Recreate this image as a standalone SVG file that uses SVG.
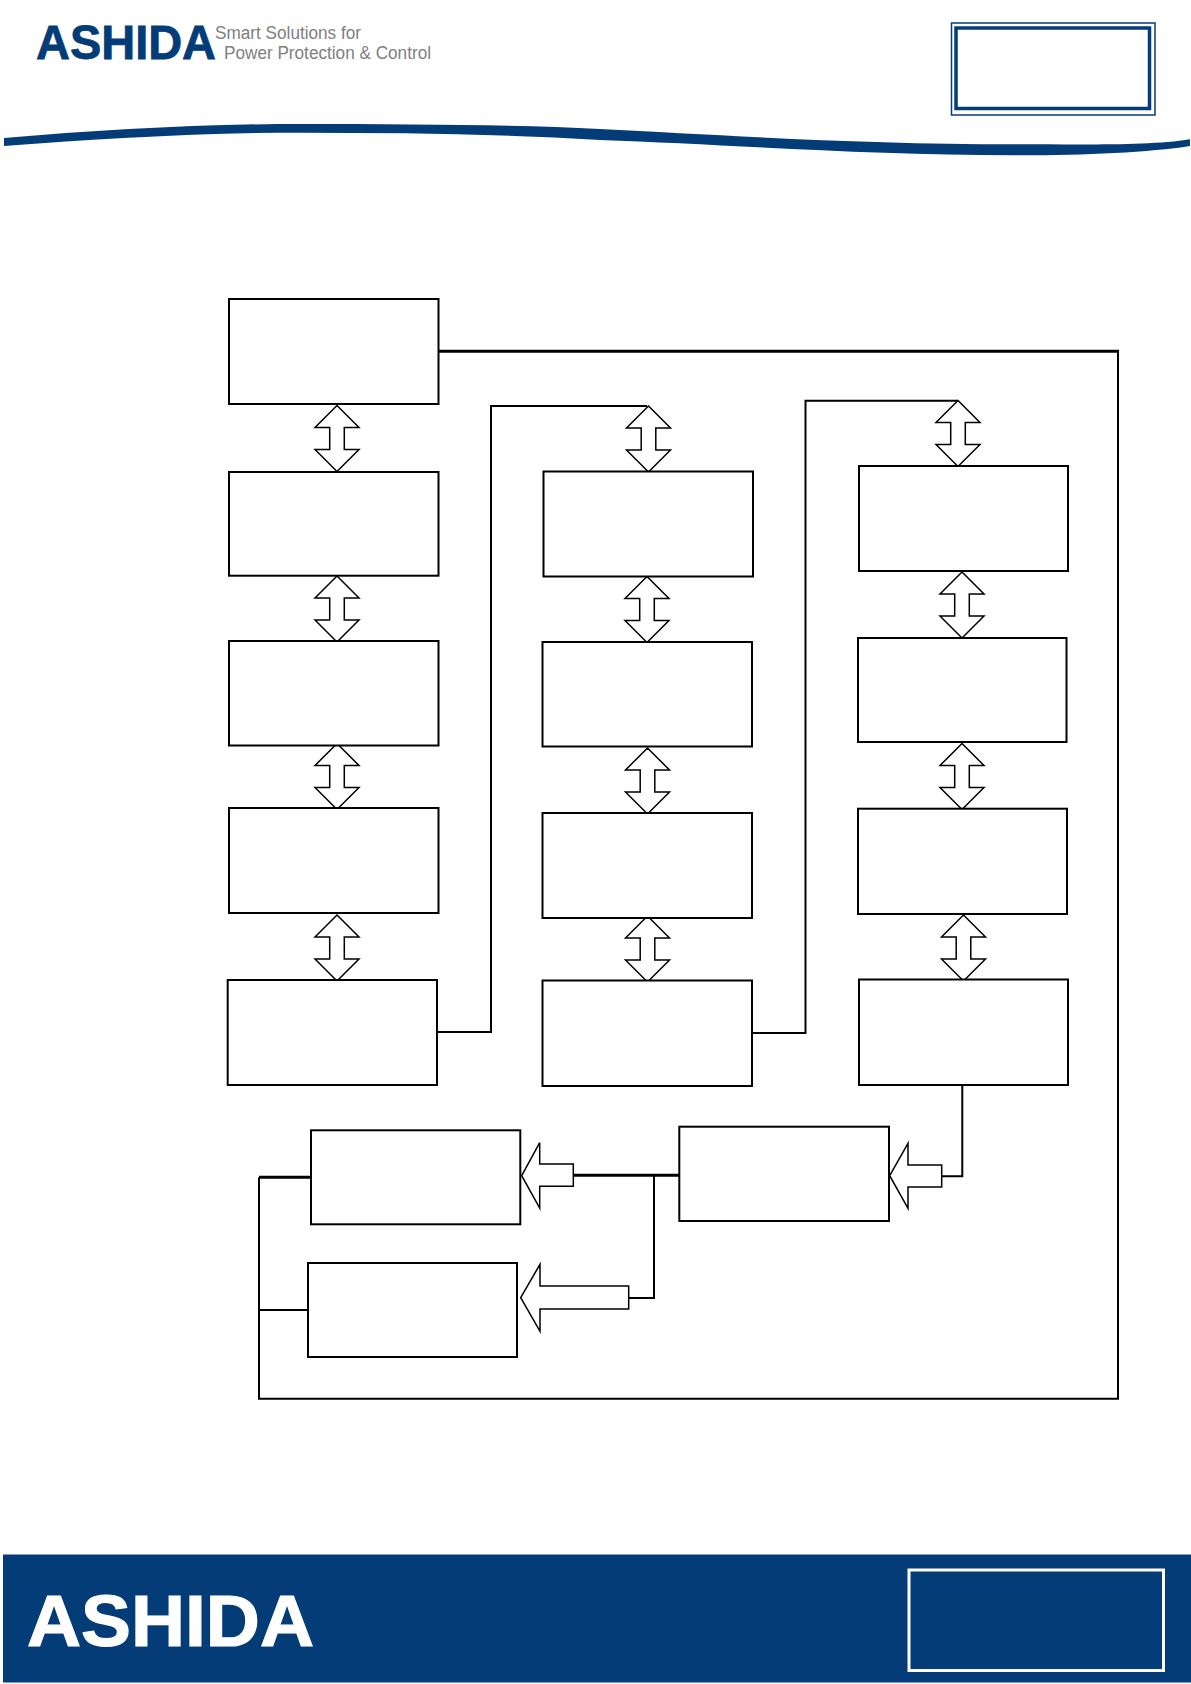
<svg xmlns="http://www.w3.org/2000/svg" width="1191" height="1684" viewBox="0 0 1191 1684">
<style>
.box{fill:#fff;stroke:#000;stroke-width:2}
.arr{fill:#fff;stroke:#000;stroke-width:1.5;stroke-linejoin:miter}
.ln{fill:none;stroke:#000;stroke-width:2}
.thick{fill:none;stroke:#000;stroke-width:3}
.blue{fill:#043c78}
.brand{font-family:"Liberation Sans",Arial,sans-serif;font-weight:700}
.tag{font-family:"Liberation Sans",Arial,sans-serif;font-size:18px;fill:#808080}
</style>
<defs>
<path id="dbl" d="M0 0L22 22H7.3V44H22L0 66L-22 44H-7.3V22H-22Z"/>
</defs>
<rect width="1191" height="1684" fill="#fff"/>
<g id="header">
<text class="brand blue" x="36" y="59.300" font-size="47.500" stroke="#043c78" stroke-width="0.800" textLength="180" lengthAdjust="spacingAndGlyphs">ASHIDA</text>
<text class="tag" x="215" y="38.500" textLength="146" lengthAdjust="spacingAndGlyphs">Smart Solutions for</text>
<text class="tag" x="224" y="58.700" textLength="207" lengthAdjust="spacingAndGlyphs">Power Protection &amp; Control</text>
<path class="blue" d="M4 138C100 130 200 124 300 124C420 124 520 125 600 129C720 135 860 144.300 1014 144.300C1080 144.300 1150 146 1190 139.300L1190 146C1150 152.500 1080 155.500 1014 155.300C860 155 720 144 600 140C500 134 400 132.700 300 132.700C200 132.700 100 139 4 146Z"/>
<rect x="951.500" y="23" width="203.500" height="92" fill="none" stroke="#043c78" stroke-width="1.500"/>
<rect x="956" y="28" width="193.500" height="80.500" fill="none" stroke="#043c78" stroke-width="3.500"/>
</g>
<g id="footer">
<rect class="blue" x="3" y="1554.500" width="1188" height="128"/>
<text class="brand" fill="#fff" stroke="#fff" stroke-width="1.200" x="27" y="1645.500" font-size="73" textLength="287" lengthAdjust="spacingAndGlyphs">ASHIDA</text>
<rect x="909" y="1570" width="254.500" height="100.500" fill="none" stroke="#fff" stroke-width="3"/>
</g>
<g id="connectors">
<path class="thick" d="M438 351.300H1119"/>
<path class="ln" d="M1118 351V1398.700H259V1177.300"/>
<path class="thick" d="M259 1177.300H311"/>
<path class="ln" d="M259 1310H308"/>
<path class="ln" d="M437 1032H491V406H647"/>
<path class="ln" d="M753 1033H805.500V400.700H958"/>
<path class="ln" d="M962.300 1085V1176.300H941.700"/>
<path class="thick" d="M679 1175.300H573.300"/>
<path class="ln" d="M654 1175.300V1298H628.700"/>
</g>
<g id="arrows">
<use href="#dbl" class="arr" x="337" y="405.500"/>
<use href="#dbl" class="arr" x="337" y="576"/>
<use href="#dbl" class="arr" x="337" y="743.500"/>
<use href="#dbl" class="arr" x="337" y="915"/>
<use href="#dbl" class="arr" x="648.500" y="406"/>
<use href="#dbl" class="arr" x="647" y="576.500"/>
<use href="#dbl" class="arr" x="647.500" y="748"/>
<use href="#dbl" class="arr" x="647.500" y="916"/>
<use href="#dbl" class="arr" x="958" y="400.500"/>
<use href="#dbl" class="arr" x="962" y="572"/>
<use href="#dbl" class="arr" x="962" y="743.500"/>
<use href="#dbl" class="arr" x="963.500" y="915"/>
<path class="arr" d="M521.700 1175.700L539.700 1142.700V1164H573.300V1186.300H539.700V1208Z"/>
<path class="arr" d="M520.700 1297.700L540 1264.300V1286H628.700V1309H540V1331.300Z"/>
<path class="arr" d="M889.700 1175.700L908 1143.300V1165H941.700V1187H908V1208.300Z"/>
</g>
<g id="n1"><rect class="box" x="229" y="299" width="209.500" height="105"/></g>
<g id="n2"><rect class="box" x="229" y="472" width="209.500" height="103.700"/></g>
<g id="n3"><rect class="box" x="229" y="641" width="209.500" height="104.500"/></g>
<g id="n4"><rect class="box" x="229" y="808" width="209.500" height="105"/></g>
<g id="n5"><rect class="box" x="227.700" y="980" width="209.300" height="105"/></g>
<g id="n6"><rect class="box" x="543.500" y="471.500" width="209.500" height="105"/></g>
<g id="n7"><rect class="box" x="542.500" y="642" width="209.500" height="104.500"/></g>
<g id="n8"><rect class="box" x="542.500" y="813" width="209.500" height="105"/></g>
<g id="n9"><rect class="box" x="542.500" y="980.500" width="209.500" height="105.500"/></g>
<g id="n10"><rect class="box" x="859" y="466" width="209" height="105"/></g>
<g id="n11"><rect class="box" x="858" y="638" width="208.500" height="104"/></g>
<g id="n12"><rect class="box" x="858" y="808.700" width="209" height="105.300"/></g>
<g id="n13"><rect class="box" x="859" y="979.500" width="209" height="105.500"/></g>
<g id="n14"><rect class="box" x="679.300" y="1126.700" width="209.700" height="94.300"/></g>
<g id="n15"><rect class="box" x="311" y="1130.300" width="209.300" height="94"/></g>
<g id="n16"><rect class="box" x="308" y="1263" width="209" height="94"/></g>
</svg>
